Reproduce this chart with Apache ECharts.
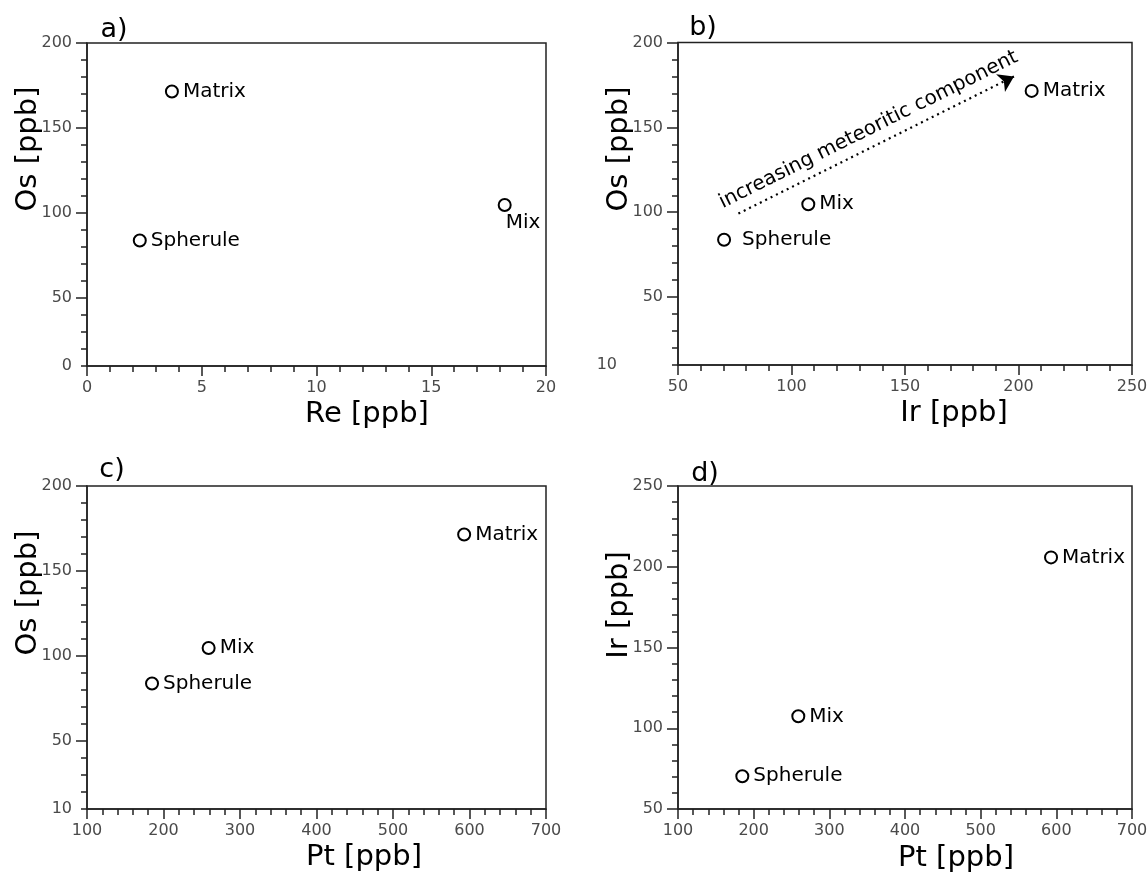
<!DOCTYPE html>
<html>
<head>
<meta charset="utf-8">
<script src="https://cdn.jsdelivr.net/npm/echarts@6/dist/echarts.min.js"></script>
<style>
html,body{margin:0;padding:0;background:#fff;}
#chart{width:1148px;height:874px;}
</style>
</head>
<body>
<div id="chart"></div>
<script>
// ---- data ----
const samples = ['Matrix', 'Mix', 'Spherule'];
const osValues = [171.5, 104.7, 83.8];   // Os [ppb]
const reValues = [3.7, 18.2, 2.3];       // Re [ppb]
const irValues = [205.8, 107.4, 70.3];   // Ir [ppb]
const ptValues = [593, 259, 185];        // Pt [ppb]

const osTickValues = [10, 50, 100, 150, 200];
const osTickLabelsA = ['0', '50', '100', '150', '200'];
const osTickLabels = ['10', '50', '100', '150', '200'];
const osMajorTicks = [50, 100, 150, 200];

const arrowStart = [76.6, 99.2];   // [Ir, Os]
const arrowEnd = [198, 180];
const arrowText = 'increasing meteoritic component';

const panelLetters = ['a)', 'b)', 'c)', 'd)'];
const axisNames = {re: 'Re [ppb]', ir: 'Ir [ppb]', pt: 'Pt [ppb]', os: 'Os [ppb]'};

// ---- styling helpers ----
const FONT = 'DejaVu Sans';
const AX = '#222';
const TICKCOL = '#4a4a4a';
const TICKSIZE = 16;

function xAxisCfg(gi, min, max, interval) {
  return {
    type: 'value', gridIndex: gi, min: min, max: max, interval: interval,
    axisLine: {show: true, onZero: false, lineStyle: {color: AX, width: 1.5}},
    axisTick: {show: true, length: 10, lineStyle: {color: AX, width: 1.5}},
    minorTick: {show: true, splitNumber: 5, length: 6, lineStyle: {color: AX, width: 1.5}},
    axisLabel: {margin: 14, color: TICKCOL, fontSize: TICKSIZE, fontFamily: FONT},
    splitLine: {show: false}, minorSplitLine: {show: false}
  };
}

function osAxes(gi, labels, farBottom) {
  const main = {
    type: 'value', gridIndex: gi, min: 10, max: 200, interval: 10, position: 'left',
    axisLine: {show: true, onZero: false, lineStyle: {color: AX, width: 1.5}},
    axisTick: {show: true, length: 6, lineStyle: {color: AX, width: 1.5}},
    axisLabel: {
      margin: 15, color: TICKCOL, fontSize: TICKSIZE, fontFamily: FONT,
      formatter: function (v) {
        const i = osTickValues.indexOf(v);
        if (i < 0) return '';
        if (farBottom && i === 0) return '{far|' + labels[i] + '}';
        return labels[i];
      },
      rich: {far: {color: TICKCOL, fontSize: TICKSIZE, fontFamily: FONT, padding: [0, 46, 0, 0]}}
    },
    splitLine: {show: false}
  };
  const major = {
    type: 'value', gridIndex: gi, min: 10, max: 200, position: 'left', offset: 0,
    axisLine: {show: false},
    axisTick: {show: true, length: 11, customValues: osMajorTicks, lineStyle: {color: AX, width: 1.5}},
    axisLabel: {show: false},
    splitLine: {show: false}
  };
  return [main, major];
}

function scatterSeries(gi, xIdx, yIdx, xs, ys, labelTweaks) {
  return {
    type: 'scatter', xAxisIndex: xIdx, yAxisIndex: yIdx,
    symbol: 'emptyCircle', symbolSize: 12,
    itemStyle: {color: '#000', borderColor: '#000', borderWidth: 2.4, opacity: 1},
    label: {show: true, position: 'right', distance: 4, formatter: '{b}',
      color: '#000', fontSize: 20, fontFamily: FONT},
    data: samples.map(function (s, i) {
      const d = {name: s, value: [xs[i], ys[i]]};
      if (labelTweaks && labelTweaks[s]) d.label = labelTweaks[s];
      return d;
    }),
    animation: false
  };
}

const grids = [
  {left: 87, top: 43, width: 459, height: 323},
  {left: 678, top: 42.5, width: 454, height: 322.5},
  {left: 87, top: 486, width: 459, height: 323},
  {left: 678, top: 486, width: 454, height: 323}
].map(function (g) {
  return Object.assign({show: true, borderColor: AX, borderWidth: 1.5, backgroundColor: 'transparent',
    containLabel: false, outerBoundsMode: 'none'}, g);
});

const xAxes = [
  xAxisCfg(0, 0, 20, 5),
  xAxisCfg(1, 50, 250, 50),
  xAxisCfg(2, 100, 700, 100),
  xAxisCfg(3, 100, 700, 100)
];

const yA = osAxes(0, osTickLabelsA, false);
const yB = osAxes(1, osTickLabels, true);
const yC = osAxes(2, osTickLabels, false);
const yD = {
  type: 'value', gridIndex: 3, min: 50, max: 250, interval: 50, position: 'left',
  axisLine: {show: true, onZero: false, lineStyle: {color: AX, width: 1.5}},
  axisTick: {show: true, length: 11, lineStyle: {color: AX, width: 1.5}},
  minorTick: {show: true, splitNumber: 5, length: 6, lineStyle: {color: AX, width: 1.5}},
  axisLabel: {margin: 15, color: TICKCOL, fontSize: TICKSIZE, fontFamily: FONT},
  splitLine: {show: false}, minorSplitLine: {show: false}
};
const yAxes = [yA[0], yA[1], yB[0], yB[1], yC[0], yC[1], yD];

const seriesA = scatterSeries(0, 0, 0, reValues, osValues, {Mix: {offset: [-10, 18]}});
const seriesB = scatterSeries(1, 1, 2, irValues, osValues, {Spherule: {distance: 11}});
seriesB.markLine = {
  silent: true, animation: false,
  symbol: ['none', 'arrow'], symbolSize: 15,
  lineStyle: {color: '#000', width: 2.2, type: [2, 4], opacity: 1},
  label: {show: true, position: 'insideMiddleTop', distance: 7, formatter: arrowText,
    color: '#000', fontSize: 20, fontFamily: FONT},
  emphasis: {disabled: true},
  data: [[{coord: arrowStart}, {coord: arrowEnd}]]
};
const seriesC = scatterSeries(2, 2, 4, ptValues, osValues);
const seriesD = scatterSeries(3, 3, 6, ptValues, irValues);

function hText(t, x, y, size) {
  return {type: 'text', x: x, y: y, silent: true,
    style: {text: t, x: 0, y: 0, textAlign: 'center', textVerticalAlign: 'middle',
      font: size + 'px "' + FONT + '"', fill: '#000'}};
}
function vText(t, x, y, size) {
  const e = hText(t, x, y, size);
  e.rotation = Math.PI / 2;
  return e;
}

const graphics = [
  hText(panelLetters[0], 114, 30, 27),
  hText(panelLetters[1], 703, 28, 27),
  hText(panelLetters[2], 112, 470, 27),
  hText(panelLetters[3], 705, 474, 27),
  hText(axisNames.re, 367, 414, 29),
  hText(axisNames.ir, 954, 413, 29),
  hText(axisNames.pt, 364, 857, 29),
  hText(axisNames.pt, 956, 858, 29),
  vText(axisNames.os, 28, 149, 29),
  vText(axisNames.os, 619, 149, 29),
  vText(axisNames.os, 28, 593, 29),
  vText(axisNames.ir, 619, 605, 29)
];

const chart = echarts.init(document.getElementById('chart'), null, {renderer: 'canvas'});
chart.setOption({
  backgroundColor: '#fff',
  animation: false,
  grid: grids,
  xAxis: xAxes,
  yAxis: yAxes,
  series: [seriesA, seriesB, seriesC, seriesD],
  graphic: graphics
});
</script>
</body>
</html>
